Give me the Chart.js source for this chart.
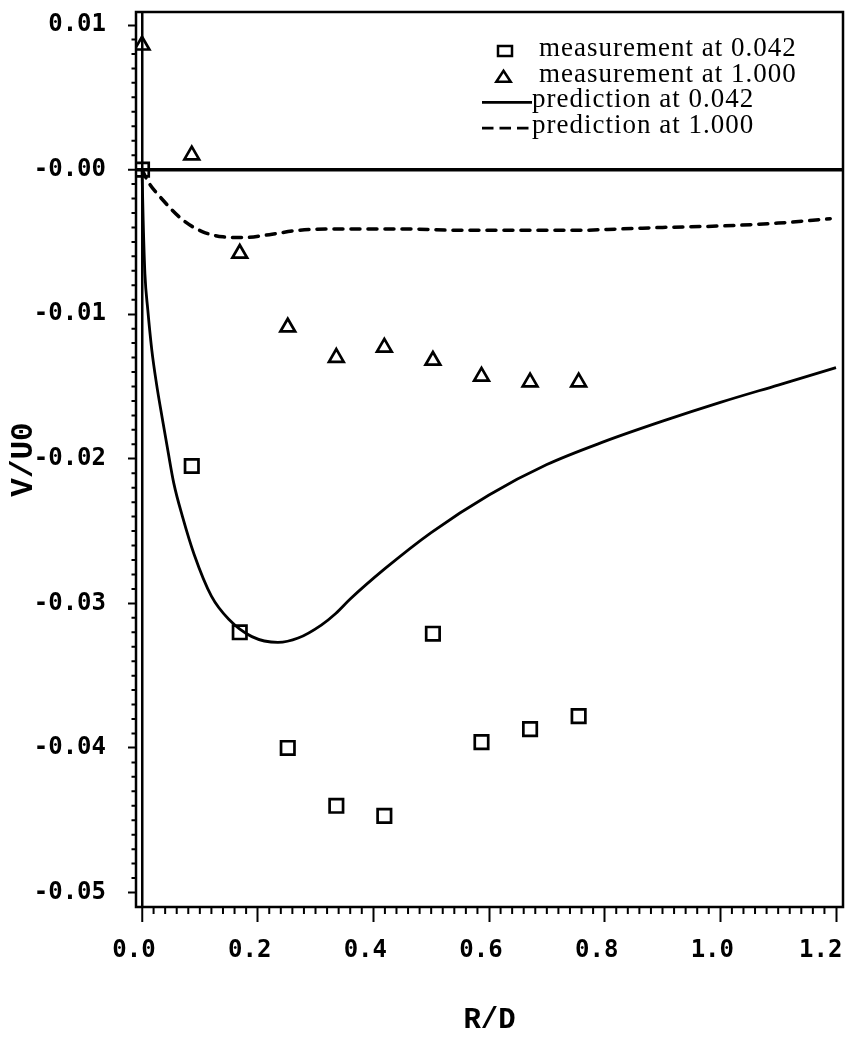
<!DOCTYPE html>
<html>
<head>
<meta charset="utf-8">
<script src="https://cdn.jsdelivr.net/npm/chart.js@4/dist/chart.umd.min.js"></script>
<style>
  html, body { margin: 0; padding: 0; background: #fff; }
  #wrap { width: 848px; height: 1040px; }
</style>
</head>
<body>
<div id="wrap"><canvas id="velocityChart" width="848" height="1040"></canvas></div>
<script>
// measurement stations along R/D (same for both sections)
const stations = [0.0, 0.086, 0.169, 0.252, 0.336, 0.419, 0.503, 0.587, 0.671, 0.755];
const measured042 = [0.0, -0.0205, -0.0320, -0.0400, -0.0440, -0.0447, -0.0321, -0.0396, -0.0387, -0.0378];
const measured1000 = [0.0086, 0.0010, -0.0058, -0.0109, -0.0130, -0.0123, -0.0132, -0.0143, -0.0147, -0.0147];

// predicted profiles
const predX042 = [0, 0.002, 0.005, 0.01, 0.017, 0.025, 0.035, 0.045, 0.055, 0.07, 0.09, 0.12, 0.15, 0.19,
  0.235, 0.27, 0.31, 0.335, 0.36, 0.42, 0.5, 0.6, 0.7, 0.8, 0.9, 1.0, 1.1, 1.2];
const predY042 = [0, -0.0035, -0.0072, -0.0097, -0.0125, -0.0148, -0.0172, -0.0195, -0.0217, -0.0240, -0.0266,
  -0.0295, -0.0311, -0.0323, -0.0327, -0.0324, -0.0315, -0.0307, -0.0297, -0.0276, -0.0251, -0.0225, -0.0204,
  -0.0188, -0.0174, -0.0161, -0.0149, -0.0137];
const predX1000 = [0, 0.01, 0.036, 0.071, 0.105, 0.14, 0.175, 0.22, 0.27, 0.35, 0.45, 0.55, 0.65, 0.75,
  0.83, 0.9, 1.0, 1.1, 1.19];
const predY1000 = [0, -0.0008, -0.0021, -0.0035, -0.0043, -0.00465, -0.0047, -0.0045, -0.0042, -0.0041,
  -0.0041, -0.0042, -0.0042, -0.0042, -0.0041, -0.0040, -0.0039, -0.0037, -0.0034];

const seriesLabels = ['measurement at 0.042', 'measurement at 1.000', 'prediction at 0.042', 'prediction at 1.000'];

const xTicks = [0, 0.2, 0.4, 0.6, 0.8, 1.0, 1.2];
const xTickLabels = ['0.0', '0.2', '0.4', '0.6', '0.8', '1.0', '1.2'];
const yTicks = [0.01, 0, -0.01, -0.02, -0.03, -0.04, -0.05];
const yTickLabels = ['0.01', '-0.00', '-0.01', '-0.02', '-0.03', '-0.04', '-0.05'];

const xMinorStep = 0.02;
const yMinorStep = 0.001;

const toPoints = (xs, ys) => xs.map((x, i) => ({ x: x, y: ys[i] }));
const isZero = c => c.tick && Math.abs(c.tick.value) < 1e-12;

const tickFont = { family: '"DejaVu Sans Mono", monospace', size: 24, weight: 'bold' };

// outer frame + minor tick marks
const frameAndMinors = {
  id: 'frameAndMinors',
  afterDraw(chart) {
    const { ctx, chartArea: a, scales: { x, y } } = chart;
    ctx.save();
    ctx.strokeStyle = '#000';
    ctx.lineWidth = 2;
    ctx.beginPath();
    for (let k = Math.ceil(y.min / yMinorStep); k <= Math.floor(y.max / yMinorStep); k++) {
      if (k % 10 === 0) continue;
      const py = y.getPixelForValue(k * yMinorStep);
      ctx.moveTo(a.left - 4.5, py);
      ctx.lineTo(a.left, py);
    }
    for (let k = 0; k * xMinorStep <= x.max + 1e-9; k++) {
      if (k % 10 === 0) continue;
      const px = x.getPixelForValue(k * xMinorStep);
      ctx.moveTo(px, a.bottom);
      ctx.lineTo(px, a.bottom + 7);
    }
    ctx.stroke();
    ctx.lineWidth = 2.5;
    ctx.strokeRect(a.left, a.top, a.right - a.left, a.bottom - a.top);
    ctx.restore();
  }
};

// legend in the upper right of the plot
const plotLegend = {
  id: 'plotLegend',
  afterDraw(chart) {
    const { ctx, chartArea: a } = chart;
    const sx = a.right - 338;          // symbol centre
    const base = a.top + 44;
    const step = 25.7;
    ctx.save();
    ctx.strokeStyle = '#000';
    ctx.fillStyle = '#000';
    ctx.font = '27px "Liberation Serif", "Times New Roman", serif';
    ctx.textBaseline = 'alphabetic';
    if ('letterSpacing' in ctx) ctx.letterSpacing = '1px';
    chart.data.datasets.forEach((ds, i) => {
      const by = base + i * step;
      const cy = by - 5;
      ctx.lineWidth = 2.5;
      ctx.setLineDash([]);
      let tx = a.right - 304;
      if (i === 0) {
        ctx.strokeRect(sx - 7, cy - 5, 14, 10);
      } else if (i === 1) {
        ctx.beginPath();
        ctx.moveTo(sx - 1.5, cy - 6);
        ctx.lineTo(sx + 5.7, cy + 5);
        ctx.lineTo(sx - 8.7, cy + 5);
        ctx.closePath();
        ctx.stroke();
      } else {
        ctx.lineWidth = 2.7;
        if (i === 3) ctx.setLineDash([11.5, 6]);
        ctx.beginPath();
        ctx.moveTo(sx - 23, cy);
        ctx.lineTo(sx + 27, cy);
        ctx.stroke();
        tx = a.right - 311;
      }
      ctx.setLineDash([]);
      ctx.fillText(ds.label, tx, by);
    });
    ctx.restore();
  }
};

new Chart(document.getElementById('velocityChart'), {
  type: 'scatter',
  data: {
    datasets: [
      {
        label: seriesLabels[0],
        data: toPoints(stations, measured042),
        pointStyle: 'rect',
        pointRadius: 9.5,
        pointBorderWidth: 2.7,
        pointBorderColor: '#000',
        pointBackgroundColor: 'rgba(0,0,0,0)',
        showLine: false
      },
      {
        label: seriesLabels[1],
        data: toPoints(stations, measured1000),
        pointStyle: 'triangle',
        pointRadius: 8.5,
        pointBorderWidth: 2.7,
        pointBorderColor: '#000',
        pointBackgroundColor: 'rgba(0,0,0,0)',
        showLine: false
      },
      {
        label: seriesLabels[2],
        data: toPoints(predX042, predY042),
        showLine: true,
        borderColor: '#000',
        borderWidth: 2.8,
        pointRadius: 0,
        cubicInterpolationMode: 'monotone'
      },
      {
        label: seriesLabels[3],
        data: toPoints(predX1000, predY1000),
        showLine: true,
        borderColor: '#000',
        borderWidth: 3.5,
        borderDash: [9, 8],
        borderCapStyle: 'round',
        pointRadius: 0,
        cubicInterpolationMode: 'monotone'
      }
    ]
  },
  options: {
    responsive: false,
    animation: false,
    events: [],
    layout: { autoPadding: false, padding: { top: 12, right: 5, left: 0, bottom: 0 } },
    plugins: {
      legend: { display: false },
      tooltip: { enabled: false }
    },
    scales: {
      x: {
        type: 'linear',
        min: -0.0104,
        max: 1.2121,
        afterBuildTicks: s => { s.ticks = xTicks.map(v => ({ value: v })); },
        afterFit: s => { s.height = 133; s.paddingLeft = 0; s.paddingRight = 0; },
        ticks: {
          autoSkip: false,
          maxRotation: 0,
          minRotation: 0,
          padding: 14,
          labelOffset: -8,
          color: '#000',
          font: tickFont,
          // last label sits a little left of its tick, as in the plot
          callback: (v, i) => i === xTickLabels.length - 1 ? xTickLabels[i] + ' ' : xTickLabels[i]
        },
        grid: {
          color: c => isZero(c) ? '#000' : 'rgba(0,0,0,0)',
          lineWidth: c => isZero(c) ? 2.5 : 1,
          tickColor: '#000',
          tickLength: 15,
          tickWidth: 2
        },
        border: { display: false },
        title: {
          display: true,
          text: 'R/D',
          color: '#000',
          font: { family: '"Liberation Mono", "Courier New", monospace', size: 29, weight: 'bold' },
          padding: { top: 0, bottom: 2 }
        }
      },
      y: {
        type: 'linear',
        min: -0.0510,
        max: 0.0109,
        afterBuildTicks: s => { s.ticks = yTicks.map(v => ({ value: v })); },
        afterFit: s => { s.width = 136; s.paddingTop = 0; s.paddingBottom = 0; },
        ticks: {
          autoSkip: false,
          padding: 22,
          color: '#000',
          font: tickFont,
          callback: (v, i) => yTickLabels[i]
        },
        grid: {
          color: c => isZero(c) ? '#000' : 'rgba(0,0,0,0)',
          lineWidth: c => isZero(c) ? 3.5 : 1,
          tickColor: '#000',
          tickLength: 8,
          tickWidth: 2
        },
        border: { display: false },
        title: {
          display: true,
          text: 'V/U0',
          color: '#000',
          font: { family: '"Liberation Mono", "Courier New", monospace', size: 31, weight: 'bold' },
          padding: { top: 6, bottom: 0 }
        }
      }
    }
  },
  plugins: [frameAndMinors, plotLegend]
});
</script>
</body>
</html>
